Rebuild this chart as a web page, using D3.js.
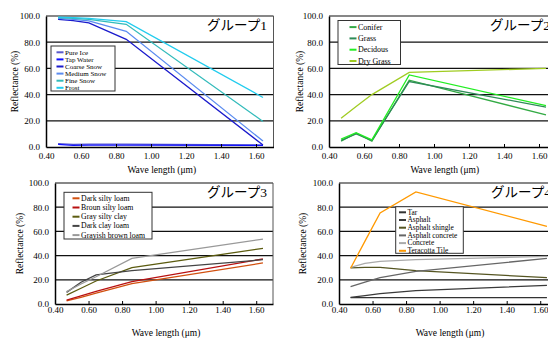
<!DOCTYPE html>
<html>
<head>
<meta charset="utf-8">
<script src="https://cdn.jsdelivr.net/npm/d3@7"></script>
<style>
body { margin: 0; background: #fff; }
svg { display: block; }
text { font-family: "Liberation Serif", "Noto Sans CJK JP", serif; fill: #000; }
</style>
</head>
<body>
<svg id="chart" width="548" height="338"></svg>
<script>
// band centres (um) shared by every group
const wavelengths = [0.469, 0.555, 0.645, 0.8585, 1.64];
const xTicks = [0.4, 0.6, 0.8, 1.0, 1.2, 1.4, 1.6];
const yTicks = [0, 20, 40, 60, 80, 100];

const group1Names = ['Pure Ice', 'Tap Water', 'Coarse Snow', 'Medium Snow', 'Fine Snow', 'Frost'];
const group1Colors = ['#5a5acd', '#1010ff', '#1a1acc', '#5b8cf0', '#33bbbb', '#22ccee'];
const group1Values = [
    [2.5, 2, 2.2, 2.2, 1.5],
    [2, 1.2, 1.5, 1.5, 1.2],
    [97.5, 96.5, 94.7, 82.2, 1.5],
    [98.2, 97.5, 96.2, 88.3, 4.5],
    [98.7, 98.3, 97.5, 93.7, 19.5],
    [99.2, 98.8, 98.2, 95.7, 37.8]
];

const group2Names = ['Conifer', 'Grass', 'Decidous', 'Dry Grass'];
const group2Colors = ['#33aa44', '#2e8b57', '#22ee22', '#a0cc22'];
const group2Values = [
    [4.5, 10.5, 4.5, 51, 24.5],
    [5, 10, 5, 50, 30.5],
    [6, 11, 5.5, 55, 31.5],
    [22, 31, 40, 57, 60]
];

const group3Names = ['Dark silty loam', 'Broun silty loam', 'Gray silty clay', 'Dark clay loam', 'Grayish brown loam'];
const group3Colors = ['#d2500f', '#b81010', '#5c5c10', '#444444', '#999999'];
const group3Values = [
    [2.5, 5.5, 9, 16.8, 33.9],
    [3.3, 6.8, 10.5, 18.5, 37.2],
    [7.4, 13, 19, 30, 46],
    [9.6, 18, 24, 27.5, 36.6],
    [10.2, 16.5, 22.5, 37.7, 53.7]
];

const group4Names = ['Tar', 'Asphalt', 'Asphalt shingle', 'Asphalt concrete', 'Concrete', 'Teracotta Tile'];
const group4Colors = ['#333333', '#3a3a3a', '#555522', '#666666', '#aaaaaa', '#ff9900'];
const group4Values = [
    [5.3, 5.3, 5.2, 5.2, 5.2],
    [5.5, 7, 8.5, 11, 15.4],
    [29.8, 30.2, 30.3, 27.5, 21.8],
    [14.3, 18, 21.8, 27, 37.7],
    [30.3, 33.5, 35.3, 36.6, 39.4],
    [29.5, 52, 75.2, 92.6, 64.2]
];

class ReflectancePanel {
    constructor(svg, cfg) {
        this.cfg = cfg;
        this.g = svg.append('g');

        this.xScale = d3.scaleLinear()
            .domain([0.4, 1.7])
            .range([cfg.left, cfg.right]);
        this.yScale = d3.scaleLinear()
            .domain([0, 100])
            .range([cfg.bottom, cfg.top]);

        this.drawGrid();
        this.drawLines();
        this.drawAxis();
        this.drawLegend();
    }

    drawGrid() {
        const c = this.cfg;
        this.g.selectAll('.grid')
            .data(yTicks.filter(d => d > 0))
            .join('line')
            .attr('x1', c.left).attr('x2', c.right)
            .attr('y1', d => this.yScale(d)).attr('y2', d => this.yScale(d))
            .attr('stroke', '#111').attr('stroke-width', 1.2);
        // right border
        this.g.append('line')
            .attr('x1', c.right).attr('x2', c.right)
            .attr('y1', c.top).attr('y2', c.bottom)
            .attr('stroke', '#555').attr('stroke-width', 1);
    }

    drawLines() {
        const line = d3.line()
            .x((d, i) => this.xScale(wavelengths[i]))
            .y(d => this.yScale(d));
        this.g.selectAll('path.series')
            .data(this.cfg.values)
            .join('path')
            .attr('class', 'series')
            .attr('d', line)
            .attr('fill', 'none')
            .attr('stroke', (d, i) => this.cfg.colors[i])
            .attr('stroke-width', 1.3);
    }

    drawAxis() {
        const c = this.cfg;
        let xAxis = d3.axisBottom(this.xScale)
            .tickValues(xTicks)
            .tickSize(-3)
            .tickSizeOuter(0)
            .tickFormat(d3.format('.2f'));
        let xg = this.g.append('g')
            .attr('transform', `translate(0, ${c.bottom})`)
            .call(xAxis);
        xg.select('.domain').attr('stroke', '#000').attr('stroke-width', 1.5);
        xg.selectAll('.tick line').attr('stroke', '#000');
        xg.selectAll('.tick text')
            .attr('y', c.xLabelDy)
            .attr('dy', 0)
            .attr('font-size', 9);

        let yAxis = d3.axisLeft(this.yScale)
            .tickValues(yTicks)
            .tickSize(0)
            .tickPadding(6)
            .tickFormat(d3.format('.1f'));
        let yg = this.g.append('g')
            .attr('transform', `translate(${c.left}, 0)`)
            .call(yAxis);
        yg.select('.domain').attr('stroke', '#000').attr('stroke-width', 1.5);
        yg.selectAll('.tick text')
            .attr('font-size', 9);

        // axis titles
        this.g.append('text')
            .text('Wave length (\u03bcm)')
            .attr('x', (c.left + c.right) / 2 + 2)
            .attr('y', c.xTitleY)
            .attr('text-anchor', 'middle')
            .attr('font-size', 9.5);
        this.g.append('text')
            .text('Reflectance (%)')
            .attr('transform', `translate(${c.yTitleX}, ${(c.top + c.bottom) / 2}) rotate(-90)`)
            .attr('text-anchor', 'middle')
            .attr('dy', '0.35em')
            .attr('font-size', 9.5);

        // group title
        this.g.append('text')
            .text(c.title)
            .attr('x', c.titleX)
            .attr('y', c.top + 14)
            .attr('text-anchor', 'end')
            .attr('font-size', 13.5);
    }

    drawLegend() {
        const L = this.cfg.legend;
        let lg = this.g.append('g').attr('transform', `translate(${L.x}, ${L.y})`);
        lg.append('rect')
            .attr('width', L.w).attr('height', L.h)
            .attr('fill', '#fff').attr('stroke', '#333').attr('stroke-width', 1);
        let rows = lg.selectAll('g.row')
            .data(this.cfg.names)
            .join('g')
            .attr('transform', (d, i) => `translate(0, ${L.y0 + i * L.rowH})`);
        rows.append('line')
            .attr('x1', L.s0).attr('x2', L.s0 + 7)
            .attr('stroke', (d, i) => this.cfg.colors[i])
            .attr('stroke-width', 2);
        rows.append('text')
            .text(d => d)
            .attr('x', L.s0 + 8.5)
            .attr('dy', '0.32em')
            .attr('font-size', L.fs);
    }
}

const svg = d3.select('#chart');

new ReflectancePanel(svg, {
    names: group1Names, colors: group1Colors, values: group1Values, title: 'グループ1',
    left: 46, right: 273.5, top: 16, bottom: 147, xLabelDy: 12, xTitleY: 173,
    yTitleX: 15, titleX: 267,
    legend: {x: 51, y: 46, w: 64, h: 45, y0: 6.3, rowH: 7.1, s0: 5.5, fs: 7}
});
new ReflectancePanel(svg, {
    names: group2Names, colors: group2Colors, values: group2Values, title: 'グループ2',
    left: 329, right: 556.5, top: 16, bottom: 147, xLabelDy: 12, xTitleY: 173,
    yTitleX: 300, titleX: 550,
    legend: {x: 338, y: 20.5, w: 62.5, h: 44, y0: 6.6, rowH: 11.3, s0: 11.5, fs: 8}
});
new ReflectancePanel(svg, {
    names: group3Names, colors: group3Colors, values: group3Values, title: 'グループ3',
    left: 55, right: 273, top: 183, bottom: 304, xLabelDy: 8.5, xTitleY: 336,
    yTitleX: 20, titleX: 267,
    legend: {x: 64, y: 192.3, w: 88, h: 46.7, y0: 6, rowH: 9.2, s0: 8.5, fs: 7.8}
});
new ReflectancePanel(svg, {
    names: group4Names, colors: group4Colors, values: group4Values, title: 'グループ4',
    left: 339, right: 557, top: 183, bottom: 304, xLabelDy: 8.5, xTitleY: 336,
    yTitleX: 303, titleX: 551,
    legend: {x: 395.7, y: 206.7, w: 67.6, h: 46.6, y0: 5.6, rowH: 7.7, s0: 3.3, fs: 7.4}
});
</script>
</body>
</html>
